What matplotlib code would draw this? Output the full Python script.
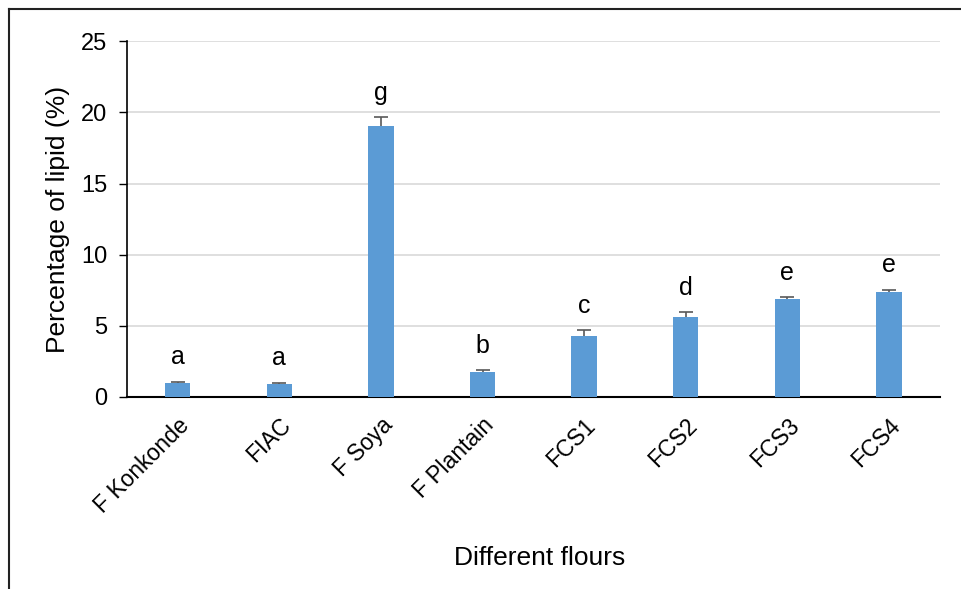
import matplotlib
matplotlib.use("Agg")
import matplotlib.pyplot as plt
from matplotlib.lines import Line2D
import numpy as np

# Data
flours = ["F Konkonde", "FIAC", "F Soya", "F Plantain", "FCS1", "FCS2", "FCS3", "FCS4"]
lipid = [0.96, 0.89, 19.05, 1.73, 4.28, 5.64, 6.86, 7.35]
lipid_err = [0.12, 0.10, 0.60, 0.15, 0.42, 0.30, 0.16, 0.20]
groups = ["a", "a", "g", "b", "c", "d", "e", "e"]

plt.rcParams['font.family'] = ['Liberation Sans', 'DejaVu Sans']

fig = plt.figure(figsize=(9.61, 5.89), dpi=100)
ax = fig.add_axes([0.132, 0.326, 0.846, 0.604])

x = np.arange(len(flours))
ax.bar(x, lipid, width=0.25, color="#5B9BD5", zorder=3)
eb = ax.errorbar(x, lipid, yerr=[np.zeros(len(lipid)), lipid_err], fmt="none",
                 ecolor="#595959", elinewidth=1.2, capsize=5, capthick=1.2, zorder=4)
# plus-only error bars: hide the cap sitting on the bar top
eb[1][0].set_visible(False)

# significance letters above the error bars
for xi, v, e, g in zip(x, lipid, lipid_err, groups):
    ax.annotate(g, (xi, v + e), xytext=(0, 9), textcoords="offset points",
                ha="center", va="bottom", fontsize=18)

ax.set_ylim(0, 25)
ax.set_xlim(-0.5, len(flours) - 0.5)
ax.set_yticks(range(0, 26, 5))
ax.yaxis.grid(True, color="#d9d9d9", linewidth=1.2, zorder=0)
ax.set_axisbelow(True)

ax.set_xticks(x)
ax.set_xticklabels(flours, rotation=45, ha="right", rotation_mode="anchor", fontsize=16.5)
ax.tick_params(axis="x", length=0, pad=12)
ax.tick_params(axis="y", labelsize=17, length=6, width=1, direction="out", pad=8)

for side in ["top", "right"]:
    ax.spines[side].set_visible(False)
ax.spines["left"].set_linewidth(1.2)
ax.spines["bottom"].set_linewidth(1.5)

ax.set_ylabel("Percentage of lipid (%)", fontsize=19, labelpad=8)
fig.text(0.562, 0.052, "Different flours", ha="center", va="center", fontsize=19)

# outer frame (left and top edges only)
fig.add_artist(Line2D([9 / 961, 9 / 961], [0, 1 - 9 / 589], color="#222222", linewidth=1.5))
fig.add_artist(Line2D([9 / 961, 1], [1 - 9 / 589, 1 - 9 / 589], color="#222222", linewidth=1.5))

fig.savefig("out.png", dpi=100)
